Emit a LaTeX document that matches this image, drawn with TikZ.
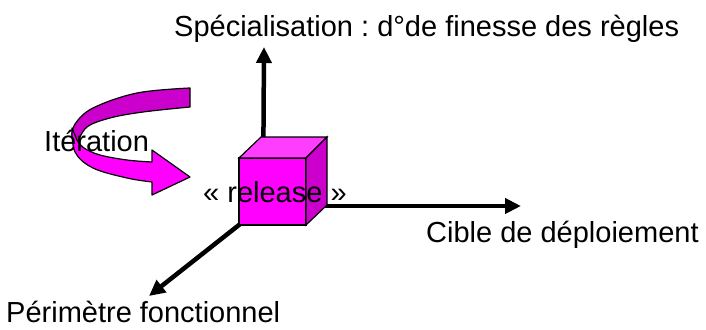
\documentclass[tikz,border=0pt]{standalone}
\usepackage{fontspec}
\setmainfont{Liberation Sans}
\usetikzlibrary{arrows.meta}
\definecolor{magfront}{HTML}{FF00FF}
\definecolor{magtop}{HTML}{FF3DFF}
\definecolor{magside}{HTML}{CC00CC}
\frenchspacing
\begin{document}
\begin{tikzpicture}[x=1pt,y=-1pt,
  axis/.style={line width=4.5pt,-{Triangle[length=16pt,width=15pt]}},
  face/.style={draw=black,line width=1.2pt,line join=miter},
  ribbon/.style={draw=black,line width=1.2pt,line join=round},
  lbl/.style={inner sep=0pt,anchor=base west,font=\fontsize{29}{34}\selectfont}]
\useasboundingbox (0,0) rectangle (706,329);

% curved iteration arrow: back half of the ribbon
\path[ribbon,fill=magside]
  plot[smooth,tension=0.6] coordinates {(190,88) (137,93) (93,108) (75,124) (72,136)}
  -- plot[smooth,tension=0.6] coordinates {(78,142) (87,127) (110,118) (143,112) (190,107)}
  -- cycle;
% front half of the ribbon with its arrowhead
\path[ribbon,fill=magfront]
  plot[smooth,tension=0.6] coordinates {(72,128) (75,152) (93,168) (127,178) (152,182)}
  -- (152,195) -- (190,177) -- (152,150) -- (152,162)
  -- plot[smooth,tension=0.6] coordinates {(152,162) (127,160) (100,155) (84,148) (77,140)}
  -- cycle;

% the three axes, meeting behind the cube
\coordinate (o)  at (263,206);
\coordinate (zt) at (264,47);
\coordinate (xt) at (521,206);
\coordinate (yt) at (149,296);
\draw[axis] (o) -- (zt);
\draw[axis] (o) -- (xt);
\draw[axis] (o) -- (yt);

% the cube
\coordinate (a) at (239,158);
\coordinate (b) at (306,158);
\coordinate (c) at (306,225);
\coordinate (d) at (239,225);
\coordinate (e) at (261,137);
\coordinate (f) at (327,137);
\coordinate (g) at (327,205);
\path[face,fill=magfront] (a) -- (b) -- (c) -- (d) -- cycle;
\path[face,fill=magtop] (a) -- (e) -- (f) -- (b) -- cycle;
\path[face,fill=magside] (b) -- (f) -- (g) -- (c) -- cycle;

% labels
\node[lbl] (spec) at (174,37) {Spécialisation : d°de finesse des règles};
\node[lbl] (iter) at (44,151) {Itération};
\node[lbl] (rel) at (203,202) {« release »};
\node[lbl] (cible) at (426,242) {Cible de déploiement};
\node[lbl] (perim) at (6,322) {Périmètre fonctionnel};
\end{tikzpicture}
\end{document}
